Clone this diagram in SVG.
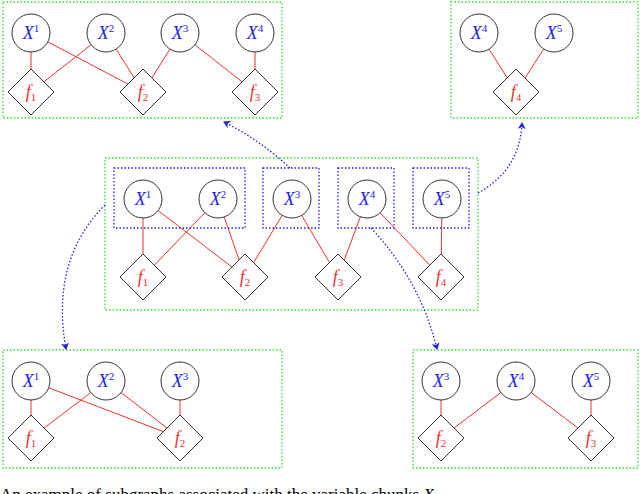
<svg xmlns="http://www.w3.org/2000/svg" width="640" height="494" viewBox="0 0 640 494">
<style>
.g{fill:none;stroke:#3d3;stroke-width:1.3;stroke-dasharray:1.5 2}
.b{fill:none;stroke:#22d;stroke-width:1.3;stroke-dasharray:1.5 2}
.v{fill:#fff;stroke:#333;stroke-width:1}
.e{stroke:#e33;stroke-width:1;fill:none}
.x{font-family:"Liberation Serif",serif;font-style:italic;font-size:18px;fill:#22e;text-anchor:middle}
.f{font-family:"Liberation Serif",serif;font-style:italic;font-size:18px;fill:#e33;text-anchor:middle}
.s{font-size:11px;font-style:normal}
</style>
<defs>
<marker id="a" markerWidth="8" markerHeight="8" refX="6" refY="4" orient="auto" markerUnits="userSpaceOnUse"><path d="M0,0 L7,4 L0,8 L2,4Z" fill="#22d"/></marker>
<g id="dm"><path d="M0,-23 L23,0 L0,23 L-23,0Z" class="v"/></g>
</defs>
<g id="boxes">
<rect class="g" x="3" y="2" width="279" height="116"/>
<rect class="g" x="451" y="2" width="187" height="116"/>
<rect class="g" x="105" y="158" width="373" height="152"/>
<rect class="g" x="3" y="350" width="279" height="118"/>
<rect class="g" x="413" y="350" width="225" height="118"/>
<rect class="b" x="114" y="168" width="131" height="60"/>
<rect class="b" x="263" y="168" width="56" height="60"/>
<rect class="b" x="338" y="168" width="56" height="60"/>
<rect class="b" x="413" y="168" width="56" height="60"/>
</g>
<g id="connectors">
<path class="e" d="M31,33L31,92M31,33L143,92M106,33L31,92M106,33L143,92M180,33L143,92M180,33L255,92M255,33L255,92"/>
<path class="e" d="M479,33L516,92M554,33L516,92"/>
<path class="e" d="M143,199L143,277M143,199L245,277M218,199L143,277M218,199L245,277M292,199L245,277M292,199L338,277M367,199L338,277M367,199L441,277M442,199L441,277"/>
<path class="e" d="M31,381L31,438M31,381L180,438M106,381L31,438M106,381L180,438M180,381L180,438"/>
<path class="e" d="M441,381L441,438M516,381L441,438M516,381L591,438M591,381L591,438"/>
<path class="b" d="M290,168 Q260,140 224,122" marker-end="url(#a)"/>
<path class="b" d="M478,193 Q520,170 522,123" marker-end="url(#a)"/>
<path class="b" d="M105,205 Q50,260 66,349" marker-end="url(#a)"/>
<path class="b" d="M371,228 Q420,280 437,349" marker-end="url(#a)"/>
</g>
<g id="nodes">
<g id="tl"><circle class="v" cx="31" cy="33" r="19"/><text class="x" x="31" y="39">X<tspan class="s" dy="-7">1</tspan></text>
<circle class="v" cx="106" cy="33" r="19"/><text class="x" x="106" y="39">X<tspan class="s" dy="-7">2</tspan></text>
<circle class="v" cx="180" cy="33" r="19"/><text class="x" x="180" y="39">X<tspan class="s" dy="-7">3</tspan></text>
<circle class="v" cx="255" cy="33" r="19"/><text class="x" x="255" y="39">X<tspan class="s" dy="-7">4</tspan></text>
<use href="#dm" x="31" y="92"/><text class="f" x="31" y="98">f<tspan class="s" dy="3">1</tspan></text>
<use href="#dm" x="143" y="92"/><text class="f" x="143" y="98">f<tspan class="s" dy="3">2</tspan></text>
<use href="#dm" x="255" y="92"/><text class="f" x="255" y="98">f<tspan class="s" dy="3">3</tspan></text></g>
<g id="tr"><circle class="v" cx="479" cy="33" r="19"/><text class="x" x="479" y="39">X<tspan class="s" dy="-7">4</tspan></text>
<circle class="v" cx="554" cy="33" r="19"/><text class="x" x="554" y="39">X<tspan class="s" dy="-7">5</tspan></text>
<use href="#dm" x="516" y="92"/><text class="f" x="516" y="98">f<tspan class="s" dy="3">4</tspan></text></g>
<g id="mid"><circle class="v" cx="143" cy="199" r="19"/><text class="x" x="143" y="205">X<tspan class="s" dy="-7">1</tspan></text>
<circle class="v" cx="218" cy="199" r="19"/><text class="x" x="218" y="205">X<tspan class="s" dy="-7">2</tspan></text>
<circle class="v" cx="292" cy="199" r="19"/><text class="x" x="292" y="205">X<tspan class="s" dy="-7">3</tspan></text>
<circle class="v" cx="367" cy="199" r="19"/><text class="x" x="367" y="205">X<tspan class="s" dy="-7">4</tspan></text>
<circle class="v" cx="442" cy="199" r="19"/><text class="x" x="442" y="205">X<tspan class="s" dy="-7">5</tspan></text>
<use href="#dm" x="143" y="277"/><text class="f" x="143" y="283">f<tspan class="s" dy="3">1</tspan></text>
<use href="#dm" x="245" y="277"/><text class="f" x="245" y="283">f<tspan class="s" dy="3">2</tspan></text>
<use href="#dm" x="338" y="277"/><text class="f" x="338" y="283">f<tspan class="s" dy="3">3</tspan></text>
<use href="#dm" x="441" y="277"/><text class="f" x="441" y="283">f<tspan class="s" dy="3">4</tspan></text></g>
<g id="bl"><circle class="v" cx="31" cy="381" r="19"/><text class="x" x="31" y="387">X<tspan class="s" dy="-7">1</tspan></text>
<circle class="v" cx="106" cy="381" r="19"/><text class="x" x="106" y="387">X<tspan class="s" dy="-7">2</tspan></text>
<circle class="v" cx="180" cy="381" r="19"/><text class="x" x="180" y="387">X<tspan class="s" dy="-7">3</tspan></text>
<use href="#dm" x="31" y="438"/><text class="f" x="31" y="444">f<tspan class="s" dy="3">1</tspan></text>
<use href="#dm" x="180" y="438"/><text class="f" x="180" y="444">f<tspan class="s" dy="3">2</tspan></text></g>
<g id="br"><circle class="v" cx="441" cy="381" r="19"/><text class="x" x="441" y="387">X<tspan class="s" dy="-7">3</tspan></text>
<circle class="v" cx="516" cy="381" r="19"/><text class="x" x="516" y="387">X<tspan class="s" dy="-7">4</tspan></text>
<circle class="v" cx="591" cy="381" r="19"/><text class="x" x="591" y="387">X<tspan class="s" dy="-7">5</tspan></text>
<use href="#dm" x="441" y="438"/><text class="f" x="441" y="444">f<tspan class="s" dy="3">2</tspan></text>
<use href="#dm" x="591" y="438"/><text class="f" x="591" y="444">f<tspan class="s" dy="3">3</tspan></text></g>
</g>
<text x="0" y="500" style="font-family:'Liberation Serif',serif;font-size:17px;fill:#000">An example of subgraphs associated with the variable chunks <tspan font-style="italic">X</tspan></text>
</svg>
